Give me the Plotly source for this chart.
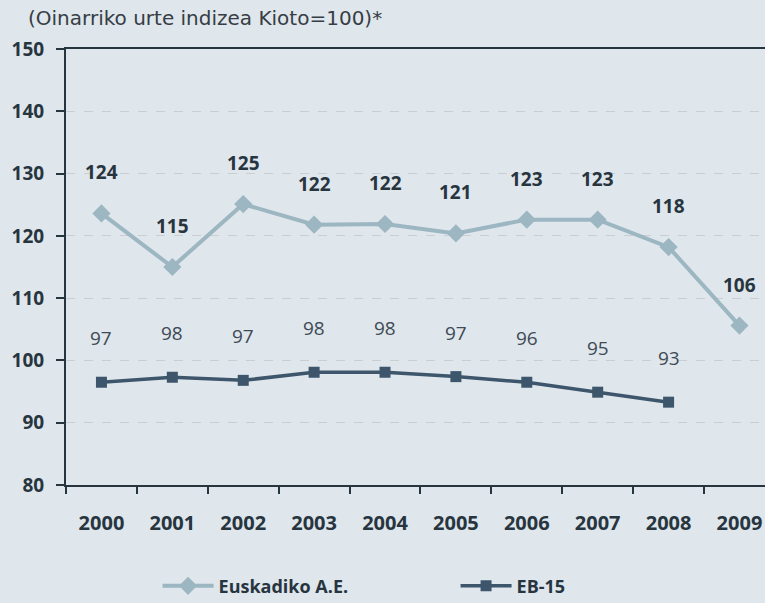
import plotly.graph_objects as go

years = ["2000", "2001", "2002", "2003", "2004", "2005", "2006", "2007", "2008", "2009"]
euskadi = [123.6, 115.0, 125.1, 121.8, 121.9, 120.4, 122.6, 122.6, 118.2, 105.6]
euskadi_labels = ["124", "115", "125", "122", "122", "121", "123", "123", "118", "106"]
eb15 = [96.5, 97.3, 96.8, 98.1, 98.1, 97.4, 96.5, 94.9, 93.3]
eb15_labels = ["97", "98", "97", "98", "98", "97", "96", "95", "93"]

BG = "#dfe6ec"
DARK = "#27353f"
C_EUS = "#9cb6c2"
C_EB = "#3d566b"
FONT = "Open Sans"

fig = go.Figure()
fig.add_trace(go.Scatter(
    x=years, y=euskadi, mode="lines+markers", name="Euskadiko A.E.",
    line=dict(color=C_EUS, width=4),
    marker=dict(symbol="diamond", size=14, color=C_EUS),
))
fig.add_trace(go.Scatter(
    x=years[:len(eb15)], y=eb15, mode="lines+markers", name="EB-15",
    line=dict(color=C_EB, width=3.5),
    marker=dict(symbol="square", size=11, color=C_EB),
))

annotations = []
for i, (yv, t) in enumerate(zip(euskadi, euskadi_labels)):
    annotations.append(dict(x=i, y=yv, xref="x", yref="y", text=t, showarrow=False, yshift=41,
                            font=dict(family=FONT, size=19, color=DARK, weight="bold")))
for i, (yv, t) in enumerate(zip(eb15, eb15_labels)):
    annotations.append(dict(x=i, y=yv, xref="x", yref="y", text=t, showarrow=False, yshift=44,
                            font=dict(family=FONT, size=19, color="#3e4a55")))

fig.update_layout(
    width=765, height=603,
    paper_bgcolor=BG, plot_bgcolor=BG,
    margin=dict(l=66, r=0, t=49, b=118, autoexpand=False),
    font=dict(family=FONT, color=DARK),
    title=dict(text="(Oinarriko urte indizea Kioto=100)*", x=28/765, xanchor="left",
               yref="container", y=1-18/603, yanchor="middle",
               font=dict(family="DejaVu Sans", size=20, color="#363d44")),
    annotations=annotations,
    showlegend=True,
    legend=dict(orientation="h", x=0.131, xanchor="left", y=-0.232, yanchor="middle",
                entrywidth=232, entrywidthmode="pixels", itemwidth=51,
                font=dict(family=FONT, size=18, color=DARK, weight="bold"),
                bgcolor="rgba(0,0,0,0)"),
)
fig.update_xaxes(
    type="category", range=[-0.5, 9.36],
    showline=True, linecolor=DARK, linewidth=2, mirror=True,
    ticks="outside", tickson="boundaries", ticklen=7, tickwidth=2, tickcolor=DARK,
    showgrid=False, ticklabelstandoff=19,
    tickfont=dict(family=FONT, size=20, color=DARK, weight="bold"),
)
fig.update_yaxes(
    range=[80, 150], tickvals=[80, 90, 100, 110, 120, 130, 140, 150],
    showline=True, linecolor=DARK, linewidth=2,
    ticks="outside", ticklen=8, tickwidth=2, tickcolor=DARK,
    showgrid=True, gridcolor="#c9ced1", gridwidth=1, griddash="dash",
    zeroline=False, ticklabelstandoff=8,
    tickfont=dict(family=FONT, size=19, color=DARK, weight="bold"),
)

fig.write_html("out.html", config={"displayModeBar": False},
               post_script="document.body.style.margin='0';document.body.style.background='%s';" % BG)
